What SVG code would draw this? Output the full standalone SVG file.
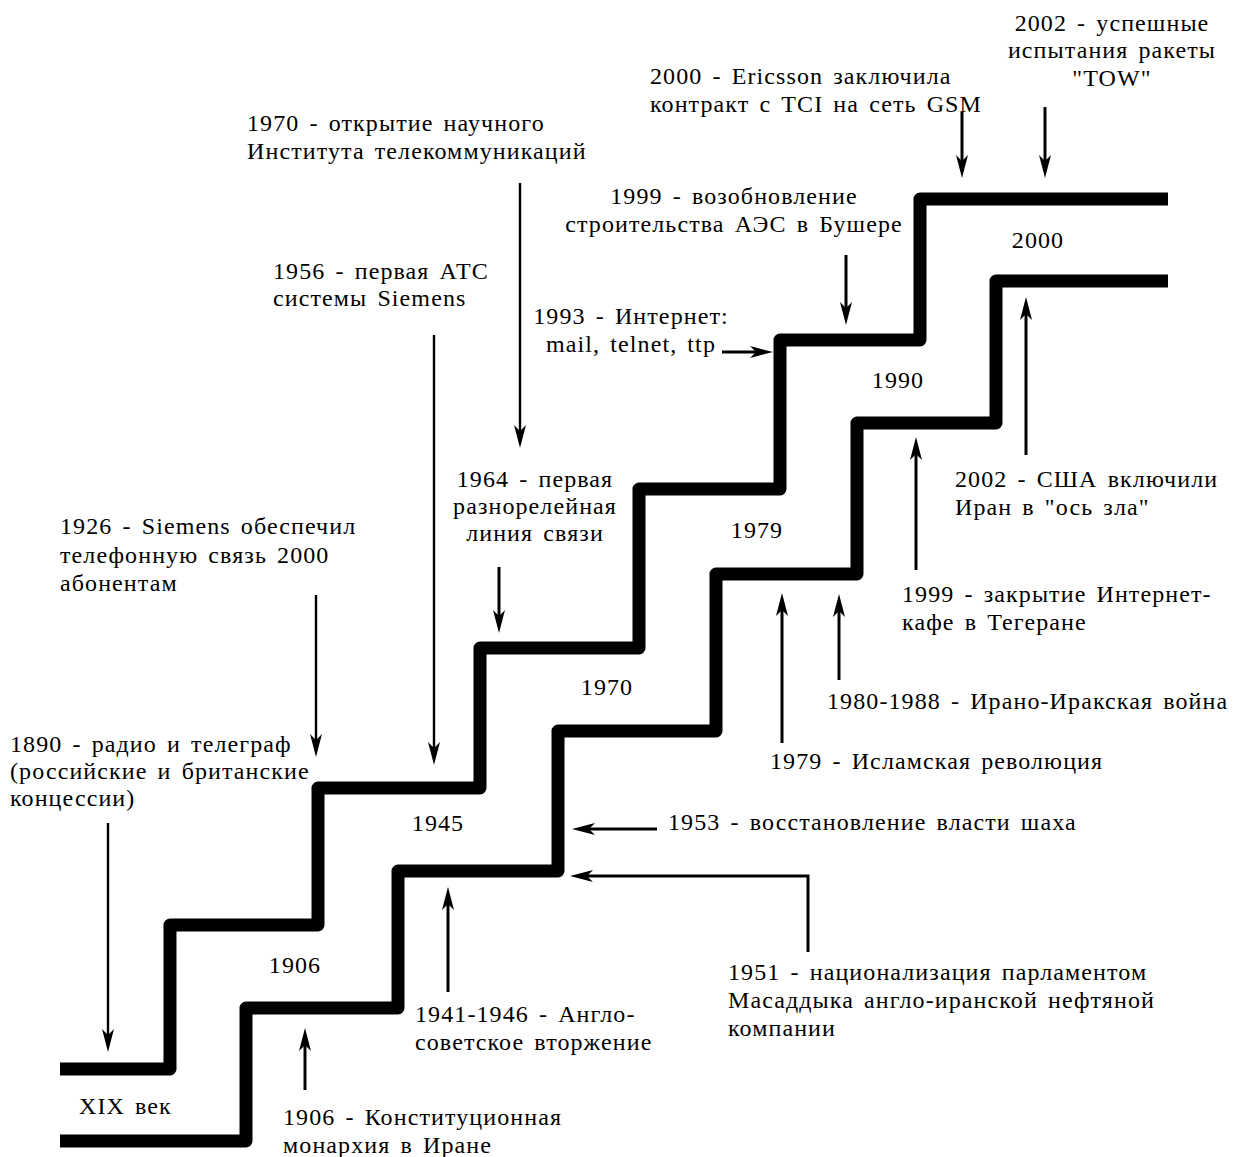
<svg xmlns="http://www.w3.org/2000/svg" width="1237" height="1157" viewBox="0 0 1237 1157">
<style>
text{font-family:"Liberation Serif","Times New Roman",serif;font-size:24px;fill:#000;letter-spacing:1.1px;word-spacing:3px}
.c{text-anchor:middle}
.stair{fill:none;stroke:#000;stroke-width:13;stroke-linejoin:round;stroke-linecap:butt}
.a{fill:none;stroke:#000;stroke-width:3;marker-end:url(#ah)}
.t{stroke-width:2.4}
</style>
<defs>
<marker id="ah" markerUnits="userSpaceOnUse" markerWidth="26" markerHeight="14" refX="10" refY="0" orient="auto" overflow="visible" viewBox="0 -7 26 14">
<path d="M23,0 L0,-6 L6,0 L0,6 Z" fill="#000"/>
</marker>
</defs>
<rect width="1237" height="1157" fill="#fff"/>
<g id="staircases">
<path class="stair" d="M60,1069 H170 V925 H318 V788 H480 V648 H639 V489 H780 V340 H920 V199 H1168"/>
<path class="stair" d="M60,1141 H246 V1008 H398 V871 H558 V731 H716 V574 H857 V423 H996 V281 H1168"/>
</g>
<g id="connectors">
<path class="a" d="M1045,107 V165"/>
<path class="a" d="M962,112 V165"/>
<path class="a t" d="M520,183 V435"/>
<path class="a" d="M846,255 V312"/>
<path class="a t" d="M434,335 V752"/>
<path class="a" d="M722,352 H760"/>
<path class="a" d="M499,567 V620"/>
<path class="a t" d="M316,595 V744"/>
<path class="a t" d="M108,823 V1039"/>
<path class="a" d="M1026,455 V310"/>
<path class="a" d="M916,570 V450"/>
<path class="a" d="M839,680 V607"/>
<path class="a" d="M782,743 V606"/>
<path class="a" d="M657,829 H585"/>
<path class="a" d="M808,952 V876 H583"/>
<path class="a" d="M448,992 V900"/>
<path class="a" d="M305,1090 V1041"/>
</g>
<g font-family="Liberation Serif, serif">
<g id="n2002tow"><text class="c" x="1112" y="31">2002 - успешные</text><text class="c" x="1112" y="58">испытания ракеты</text><text class="c" x="1112" y="86">"TOW"</text></g>
<g id="n2000ericsson"><text x="650" y="84">2000 - Ericsson заключила</text><text x="650" y="112">контракт с TCI на сеть GSM</text></g>
<g id="n1970inst"><text x="247" y="131">1970 - открытие научного</text><text x="247" y="159">Института телекоммуникаций</text></g>
<g id="n1999aes"><text class="c" x="734" y="204">1999 - возобновление</text><text class="c" x="734" y="232">строительства АЭС в Бушере</text></g>
<g id="n1956"><text x="273" y="279">1956 - первая АТС</text><text x="273" y="306">системы Siemens</text></g>
<g id="n1993"><text class="c" x="631" y="324">1993 - Интернет:</text><text class="c" x="631" y="352">mail, telnet, ttp</text></g>
<g id="n1964"><text class="c" x="535" y="487">1964 - первая</text><text class="c" x="535" y="514">разнорелейная</text><text class="c" x="535" y="541">линия связи</text></g>
<g id="n1926"><text x="60" y="534">1926 - Siemens обеспечил</text><text x="60" y="563">телефонную связь 2000</text><text x="60" y="591">абонентам</text></g>
<g id="n1890"><text x="10" y="752">1890 - радио и телеграф</text><text x="10" y="779">(российские и британские</text><text x="10" y="806">концессии)</text></g>
<g id="lbl2000"><text class="c" x="1038" y="248">2000</text></g>
<g id="lbl1990"><text class="c" x="898" y="388">1990</text></g>
<g id="lbl1979"><text class="c" x="757" y="538">1979</text></g>
<g id="lbl1970"><text class="c" x="607" y="695">1970</text></g>
<g id="lbl1945"><text class="c" x="438" y="831">1945</text></g>
<g id="lbl1906"><text class="c" x="295" y="973">1906</text></g>
<g id="lblxix"><text x="79" y="1114">XIX век</text></g>
<g id="n2002usa"><text x="955" y="487">2002 - США включили</text><text x="955" y="515">Иран в "ось зла"</text></g>
<g id="n1999cafe"><text x="902" y="602">1999 - закрытие Интернет-</text><text x="902" y="630">кафе в Тегеране</text></g>
<g id="n1980"><text x="827" y="709">1980-1988 - Ирано-Иракская война</text></g>
<g id="n1979"><text x="770" y="769">1979 - Исламская революция</text></g>
<g id="n1953"><text x="668" y="830">1953 - восстановление власти шаха</text></g>
<g id="n1951"><text x="728" y="980">1951 - национализация парламентом</text><text x="728" y="1008">Масаддыка англо-иранской нефтяной</text><text x="728" y="1036">компании</text></g>
<g id="n1941"><text x="415" y="1022">1941-1946 - Англо-</text><text x="415" y="1050">советское вторжение</text></g>
<g id="n1906"><text x="283" y="1125">1906 - Конституционная</text><text x="283" y="1153">монархия в Иране</text></g>
</g>
</svg>
